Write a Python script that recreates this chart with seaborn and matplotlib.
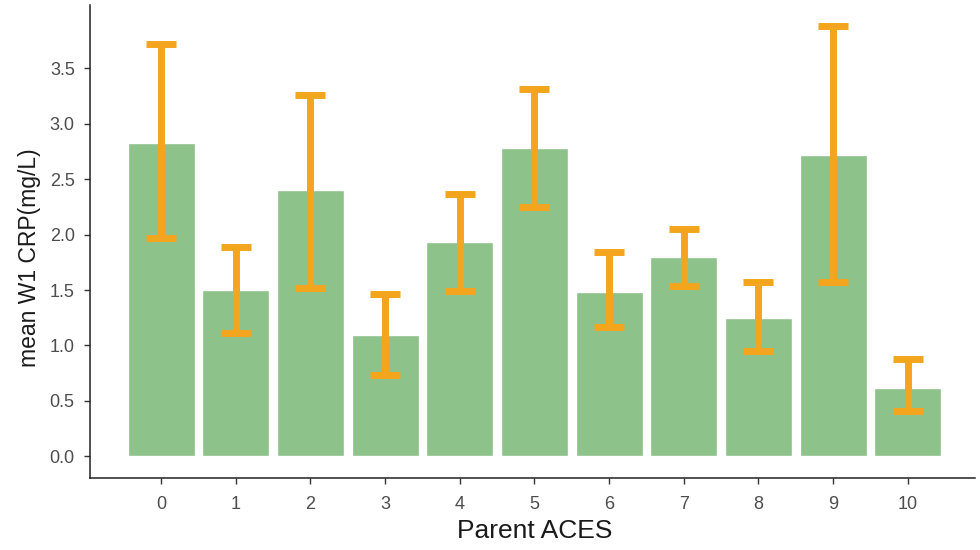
import matplotlib
matplotlib.use("Agg")
import matplotlib.pyplot as plt
import seaborn as sns
import pandas as pd
import numpy as np

# Mean wave-1 CRP by parental ACE score, with error intervals
aces = [0, 1, 2, 3, 4, 5, 6, 7, 8, 9, 10]
mean_crp = [2.83, 1.50, 2.40, 1.09, 1.93, 2.78, 1.48, 1.80, 1.25, 2.72, 0.62]
lower = [1.97, 1.11, 1.52, 0.73, 1.49, 2.25, 1.17, 1.54, 0.95, 1.57, 0.41]
upper = [3.72, 1.89, 3.26, 1.46, 2.37, 3.31, 1.84, 2.05, 1.57, 3.88, 0.88]
y_ticks = [0.0, 0.5, 1.0, 1.5, 2.0, 2.5, 3.0, 3.5]

df = pd.DataFrame({"aces": aces, "crp": mean_crp, "lo": lower, "hi": upper})

sns.set_style("ticks")
plt.rcParams["font.family"] = ["Liberation Sans", "DejaVu Sans"]

fig = plt.figure(figsize=(9.8, 5.5), dpi=100)
ax = fig.add_axes([90 / 980, 72 / 550, 885 / 980, 473 / 550])

sns.barplot(data=df, x="aces", y="crp", order=aces, color="#8DC28B",
            saturation=1, width=0.9, errorbar=None, ax=ax)

pos = np.arange(len(aces))
ax.errorbar(pos, df["crp"],
            yerr=[df["crp"] - df["lo"], df["hi"] - df["crp"]],
            fmt="none", ecolor="#F4A51E", elinewidth=5.0, capsize=10.8,
            capthick=5.0, zorder=3)

ax.set_xlim(-0.953, 10.9)
ax.set_ylim(-0.195, 4.07)
ax.set_yticks(y_ticks)
ax.set_yticklabels([f"{v:.1f}" for v in y_ticks])
ax.set_xticks(pos)
ax.set_xticklabels([str(a) for a in aces])

ax.tick_params(axis="both", labelsize=13, labelcolor="#4D4D4D",
               color="#333333", length=4.5, width=1)
ax.tick_params(axis="x", pad=8.5)
ax.tick_params(axis="y", pad=6.5)
for side in ("top", "right"):
    ax.spines[side].set_visible(False)
for side in ("left", "bottom"):
    ax.spines[side].set_color("#222222")
    ax.spines[side].set_linewidth(1.1)

ax.set_xlabel("")
ax.set_ylabel("")
fig.text(535 / 980, 1 - 538 / 550, "Parent ACES", fontsize=19,
         color="#1a1a1a", ha="center", va="baseline")
fig.text(36 / 980, 1 - 258 / 550, "mean W1 CRP(mg/L)", fontsize=16.5,
         color="#1a1a1a", ha="center", va="baseline", rotation=90,
         rotation_mode="anchor")

fig.savefig("out.png", dpi=100)
